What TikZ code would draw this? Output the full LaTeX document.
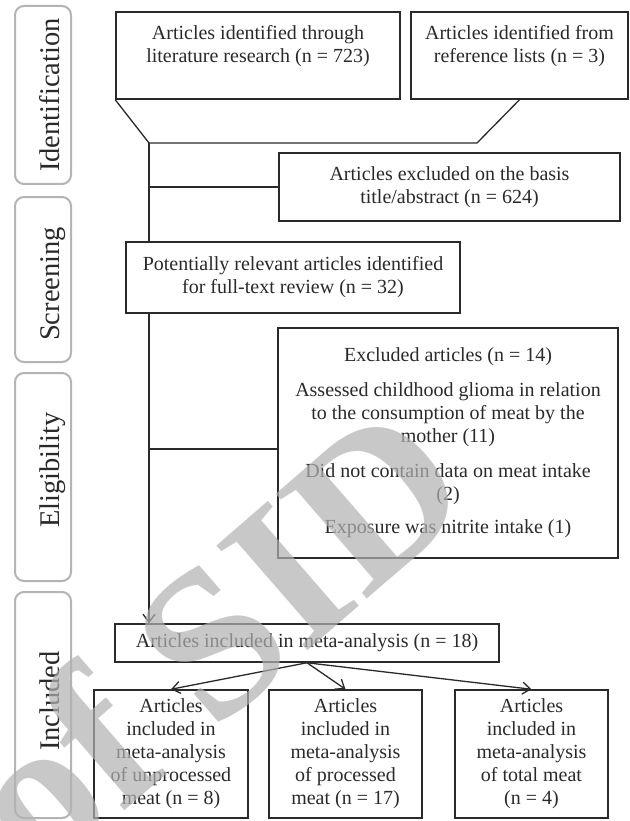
\documentclass[tikz,border=0pt]{standalone}
\usepackage{fontspec}
\setmainfont{Liberation Serif}
\usetikzlibrary{arrows.meta}
\definecolor{ink}{HTML}{2A2A2A}
\definecolor{phaseline}{HTML}{B4B4B4}
\begin{document}
\begin{tikzpicture}[x=1pt,y=-1pt,
  box/.style={draw=ink, line width=1.5pt, fill=white, inner sep=0pt, align=center, text=ink, font=\fontsize{20}{23}\selectfont},
  phasebox/.style={draw=phaseline, line width=2pt, rounded corners=9pt, inner sep=0pt},
  phasetext/.style={rotate=90, anchor=base, text=ink, font=\fontsize{28.5}{30}\selectfont, inner sep=0pt},
  conn/.style={draw=ink, line width=1.3pt},
  arr/.style={conn, -{Straight Barb[length=8pt,width=12pt]}},
  wmark/.style={rotate=41, anchor=base west, text=black!30, opacity=0.7, inner sep=0pt, font=\fontsize{212}{212}\bfseries\selectfont}
]
\useasboundingbox (0,0) rectangle (629,821);
\fill[white] (0,0) rectangle (629,821);

% phase labels
\node[phasebox, minimum width=56pt, minimum height=178pt] (pid) at (43,95) {};
\node[phasetext] (tid) at (59,95) {Identification};
\node[phasebox, minimum width=56pt, minimum height=165pt] (psc) at (43,279.5) {};
\node[phasetext] (tsc) at (59,284) {Screening};
\node[phasebox, minimum width=56pt, minimum height=208pt] (pel) at (43,477) {};
\node[phasetext] (tel) at (59,470) {Eligibility};
\node[phasebox, minimum width=56pt, minimum height=226pt] (pin) at (43,705) {};
\node[phasetext] (tin) at (59,701) {Included};

% boxes
\node[box, minimum width=284pt, minimum height=87pt] (lit) at (258,55.5)
  {Articles identified through\\literature research (n = 723)\\\mbox{}};
\node[box, minimum width=217pt, minimum height=87pt] (ref) at (519.5,55.5)
  {Articles identified from\\reference lists (n = 3)\\\mbox{}};
\node[box, minimum width=341pt, minimum height=68pt] (basis) at (449.5,187)
  {Articles excluded on the basis\\title/abstract (n = 624)};
\node[box, minimum width=334pt, minimum height=71pt] (pot) at (293,277.5)
  {Potentially relevant articles identified\\for full-text review (n = 32)};
\node[box, minimum width=340pt, minimum height=230pt] (excl) at (448,443)
  {Excluded articles (n = 14)\\[12pt]Assessed childhood glioma in relation\\to the consumption of meat by the\\mother (11)\\[12pt]Did not contain data on meat intake\\(2)\\[10pt]Exposure was nitrite intake (1)};
\node[box, minimum width=384pt, minimum height=38pt] (inc) at (307,643)
  {Articles included in meta-analysis (n = 18)};
\node[box, minimum width=154pt, minimum height=128pt] (ua) at (171,754)
  {Articles\\included in\\meta-analysis\\of unprocessed\\meat (n = 8)};
\node[box, minimum width=153pt, minimum height=128pt] (ub) at (345.5,754)
  {Articles\\included in\\meta-analysis\\of processed\\meat (n = 17)};
\node[box, minimum width=153pt, minimum height=128pt] (uc) at (531.5,754)
  {Articles\\included in\\meta-analysis\\of total meat\\(n = 4)};

% connectors
\coordinate (f1) at (149,143);
\coordinate (f2) at (477,143);
\draw[conn] (lit.south west) -- (f1) -- (f2) -- (ref.south);
\draw[conn] (f1) -- (f1 |- pot.north);
\draw[arr] (f1 |- pot.south) -- (f1 |- inc.north);
\coordinate (j1) at (149,187);
\draw[conn] (j1) -- (j1 -| basis.west);
\coordinate (j2) at (149,449);
\draw[conn] (j2) -- (j2 -| excl.west);
\draw[arr] (inc.south) -- (ua.north);
\draw[arr] (inc.south) -- (ub.north);
\draw[arr] (inc.south) -- (uc.north);

% watermark
\node[wmark] (wm) at (40,884) {of SID};
\end{tikzpicture}
\end{document}
